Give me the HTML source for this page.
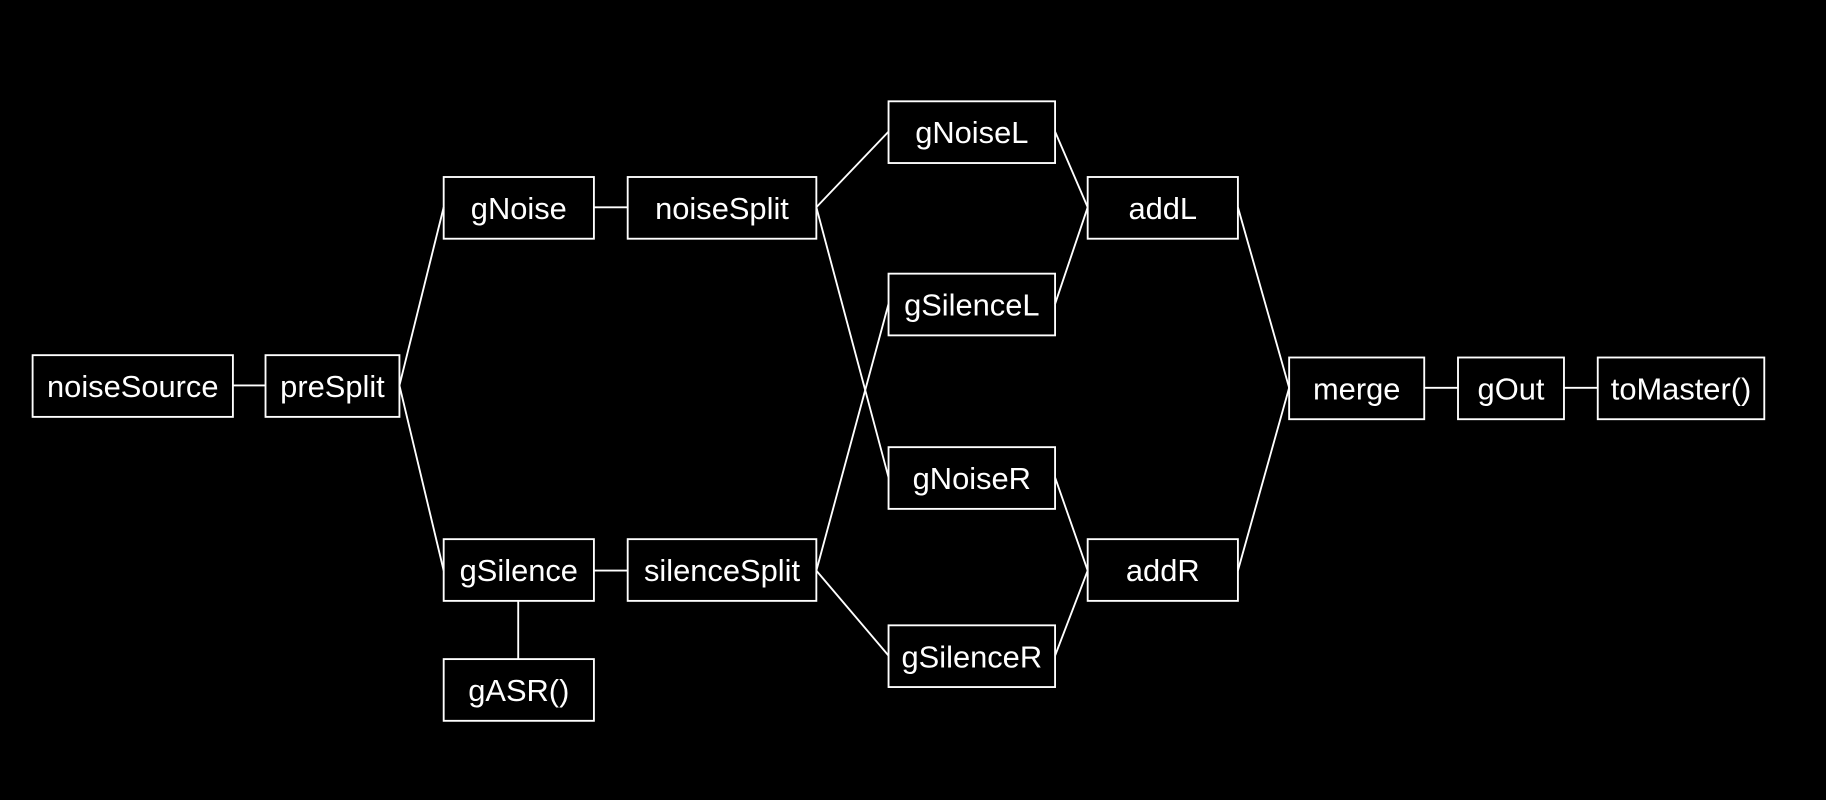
<!DOCTYPE html>
<html><head><meta charset="utf-8"><style>
html,body{margin:0;padding:0;background:#000;}
svg{display:block;}
text{font-family:"Liberation Sans",sans-serif;font-size:26.5px;fill:#fff;text-anchor:middle;dominant-baseline:central;}
rect{fill:none;stroke:#fff;stroke-width:1.6;}
line{stroke:#fff;stroke-width:1.6;}
</style></head><body>
<svg width="1826" height="800" viewBox="0 0 1568 687" preserveAspectRatio="none">
<rect x="0" y="0" width="1568" height="687" style="fill:#000;stroke:none"/>
<g>
<line x1="200" y1="331" x2="228" y2="331"/>
<line x1="343" y1="331" x2="381" y2="178"/>
<line x1="343" y1="331" x2="381" y2="490"/>
<line x1="510" y1="178" x2="539" y2="178"/>
<line x1="510" y1="490" x2="539" y2="490"/>
<line x1="445" y1="516" x2="445" y2="566"/>
<line x1="701" y1="178" x2="763" y2="113"/>
<line x1="701" y1="178" x2="763" y2="410"/>
<line x1="701" y1="490" x2="763" y2="261"/>
<line x1="701" y1="490" x2="763" y2="563"/>
<line x1="906" y1="113" x2="934" y2="178"/>
<line x1="906" y1="261" x2="934" y2="178"/>
<line x1="906" y1="410" x2="934" y2="490"/>
<line x1="906" y1="563" x2="934" y2="490"/>
<line x1="1063" y1="178" x2="1107" y2="333"/>
<line x1="1063" y1="490" x2="1107" y2="333"/>
<line x1="1223" y1="333" x2="1252" y2="333"/>
<line x1="1343" y1="333" x2="1372" y2="333"/>
</g>
<rect x="28" y="305" width="172" height="53"/><text x="114" y="332">noiseSource</text>
<rect x="228" y="305" width="115" height="53"/><text x="285.5" y="332">preSplit</text>
<rect x="381" y="152" width="129" height="53"/><text x="445.5" y="179">gNoise</text>
<rect x="539" y="152" width="162" height="53"/><text x="620" y="179">noiseSplit</text>
<rect x="381" y="463" width="129" height="53"/><text x="445.5" y="490">gSilence</text>
<rect x="539" y="463" width="162" height="53"/><text x="620" y="490">silenceSplit</text>
<rect x="381" y="566" width="129" height="53"/><text x="445.5" y="593">gASR()</text>
<rect x="763" y="87" width="143" height="53"/><text x="834.5" y="114">gNoiseL</text>
<rect x="763" y="235" width="143" height="53"/><text x="834.5" y="262">gSilenceL</text>
<rect x="763" y="384" width="143" height="53"/><text x="834.5" y="411">gNoiseR</text>
<rect x="763" y="537" width="143" height="53"/><text x="834.5" y="564">gSilenceR</text>
<rect x="934" y="152" width="129" height="53"/><text x="998.5" y="179">addL</text>
<rect x="934" y="463" width="129" height="53"/><text x="998.5" y="490">addR</text>
<rect x="1107" y="307" width="116" height="53"/><text x="1165" y="334">merge</text>
<rect x="1252" y="307" width="91" height="53"/><text x="1297.5" y="334">gOut</text>
<rect x="1372" y="307" width="143" height="53"/><text x="1443.5" y="334">toMaster()</text>
</svg>
</body></html>
